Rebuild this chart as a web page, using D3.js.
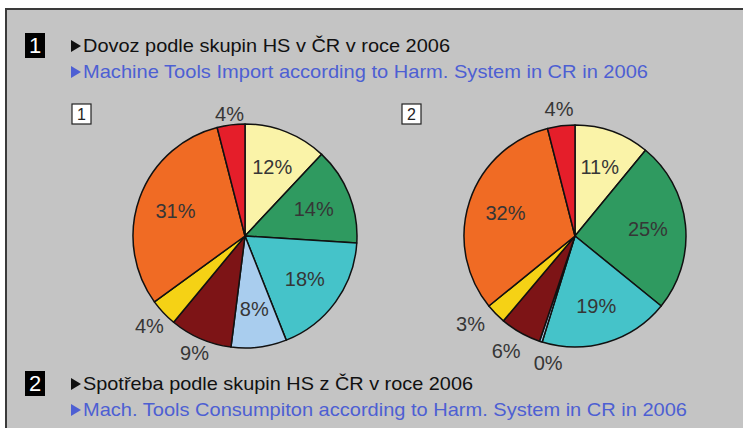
<!DOCTYPE html>
<html>
<head>
<meta charset="utf-8">
<script src="https://cdn.jsdelivr.net/npm/d3@7"></script>
<style>
  body { margin: 0; background: #fff; }
  svg { display: block; }
  text { font-family: "Liberation Sans", Arial, sans-serif; }
</style>
</head>
<body>
<svg id="chart" width="743" height="428"></svg>
<script>
// HS groups, clockwise from 12 o'clock
const groups = ['g1', 'g2', 'g3', 'g4', 'g5', 'g6', 'g7', 'g8'];
const groupColors = ['#faf3a8', '#2f9a60', '#45c3c9', '#a9cdee', '#7d1416', '#f5d215', '#f06b24', '#e51e2a'];

// 1 - import, 2 - consumption (shares in %)
const importShares = [12, 14, 18, 8, 9, 4, 31, 4];
const consumptionShares = [11, 25, 19, 0.4, 6, 3, 32, 4];

// slices whose label sits outside the pie
const importOutside = ['g5', 'g6', 'g8'];
const consumptionOutside = ['g4', 'g5', 'g6', 'g8'];

const titleTop = ['Dovoz podle skupin HS v ČR v roce 2006', 'Machine Tools Import according to Harm. System in CR in 2006'];
const titleBottom = ['Spotřeba podle skupin HS z ČR v roce 2006', 'Mach. Tools Consumpiton according to Harm. System in CR in 2006'];

const svg = d3.select('#chart');

// panel background + border (box runs off right/bottom edge)
svg.append('rect').attr('x', 6).attr('y', 9).attr('width', 760).attr('height', 440)
  .attr('fill', '#c4c4c4').attr('stroke', '#3a3a3a').attr('stroke-width', 2);

function titleLine(y, str, color, width) {
  svg.append('path').attr('d', `M71,${y - 12}L81,${y - 6}L71,${y}Z`).attr('fill', color);
  svg.append('text').attr('x', 83).attr('y', y).attr('font-size', 19).attr('fill', color)
    .attr('textLength', width).attr('lengthAdjust', 'spacingAndGlyphs').text(str);
}

function header(num, lines, y, widths) {
  svg.append('rect').attr('x', 25).attr('y', y - 12).attr('width', 20).attr('height', 25).attr('fill', '#000');
  svg.append('text').attr('x', 35).attr('y', y + 8).attr('text-anchor', 'middle')
    .attr('fill', '#fff').attr('font-size', 22).text(num);
  titleLine(y + 7, lines[0], '#111', widths[0]);
  titleLine(y + 33, lines[1], '#4d5fd3', widths[1]);
}

header('1', titleTop, 45, [367, 565]);
header('2', titleBottom, 383, [390, 604]);

function drawPie(values, outside, cx, cy, r, gap, tag, tagX) {
  const g = svg.append('g').attr('transform', `translate(${cx},${cy})`);
  const pie = d3.pie().sort(null).value(d => d.v);
  const data = pie(values.map((v, i) => ({ v, k: groups[i], c: groupColors[i] })));
  const arc = d3.arc().innerRadius(0).outerRadius(r);
  const inLab = d3.arc().innerRadius(r * 0.66).outerRadius(r * 0.66);

  g.selectAll('path').data(data).enter().append('path')
    .attr('d', arc).attr('fill', d => d.data.c)
    .attr('stroke', '#111').attr('stroke-width', 1.5).attr('stroke-linejoin', 'round');

  // outside labels: spread apart so neighbours don't collide
  const outs = data.filter(d => outside.includes(d.data.k))
    .map(d => ({ d, a: (d.startAngle + d.endAngle) / 2 }))
    .sort((p, q) => p.a - q.a);
  const minGap = 19 * Math.PI / 180;
  for (let it = 0; it < 30; it++) {
    for (let i = 1; i < outs.length; i++) {
      const diff = outs[i].a - outs[i - 1].a;
      if (diff < minGap) {
        outs[i].a += (minGap - diff) / 2;
        outs[i - 1].a -= (minGap - diff) / 2;
      }
    }
  }
  const outPos = new Map();
  outs.forEach(o => {
    const s = Math.sin(o.a), c = -Math.cos(o.a);
    const dist = r + gap + Math.abs(s) * 17 + Math.abs(c) * 7;
    outPos.set(o.d.data.k, [s * dist, c * dist]);
  });

  g.selectAll('text.lab').data(data).enter().append('text')
    .attr('class', 'lab')
    .attr('transform', d => `translate(${outPos.get(d.data.k) || inLab.centroid(d)})`)
    .attr('text-anchor', 'middle').attr('dy', '0.35em')
    .attr('font-size', 20).attr('fill', '#363636')
    .text(d => Math.round(d.data.v) + '%');

  // panel number tag
  svg.append('rect').attr('x', tagX).attr('y', 104).attr('width', 19).attr('height', 20)
    .attr('fill', '#fff').attr('stroke', '#222').attr('stroke-width', 1.2);
  svg.append('text').attr('x', tagX + 9.5).attr('y', 120).attr('text-anchor', 'middle')
    .attr('font-size', 16).attr('fill', '#222').text(tag);
}

drawPie(importShares, importOutside, 245, 236, 112, 2, '1', 72);
drawPie(consumptionShares, consumptionOutside, 575, 236, 111, 8, '2', 402);
</script>
</body>
</html>
